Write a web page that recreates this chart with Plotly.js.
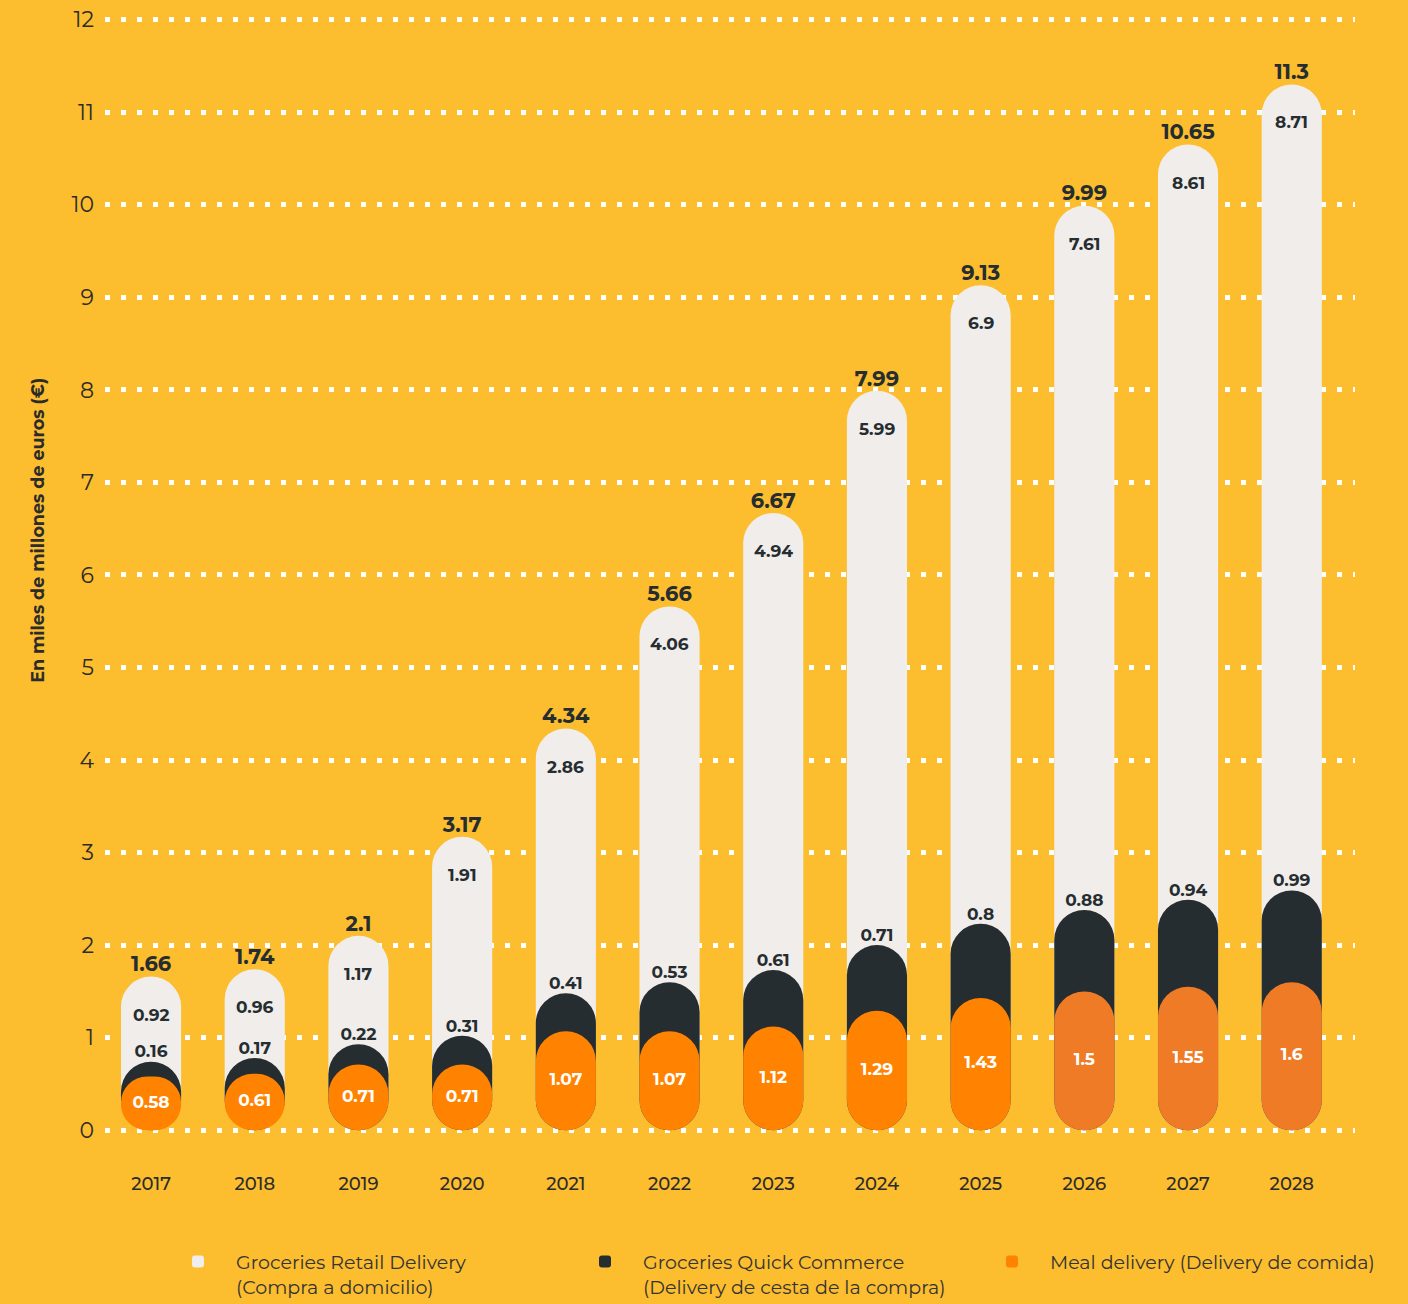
<!DOCTYPE html>
<html>
<head>
<meta charset="utf-8">
<script src="https://cdn.plot.ly/plotly-3.0.1.min.js"></script>
<style>
  html, body { margin: 0; padding: 0; background: #FCBD2E; }
  #chart { width: 1408px; height: 1304px; }
</style>
</head>
<body>
<div id="chart"></div>
<script>
// ---- data ----
const years  = ['2017','2018','2019','2020','2021','2022','2023','2024','2025','2026','2027','2028'];
const retail = [0.92, 0.96, 1.17, 1.91, 2.86, 4.06, 4.94, 5.99, 6.9, 7.61, 8.61, 8.71];
const quick  = [0.16, 0.17, 0.22, 0.31, 0.41, 0.53, 0.61, 0.71, 0.8, 0.88, 0.94, 0.99];
const meal   = [0.58, 0.61, 0.71, 0.71, 1.07, 1.07, 1.12, 1.29, 1.43, 1.5, 1.55, 1.6];
const totals = [1.66, 1.74, 2.1, 3.17, 4.34, 5.66, 6.67, 7.99, 9.13, 9.99, 10.65, 11.3];
const yTickVals = [0,1,2,3,4,5,6,7,8,9,10,11,12];
const forecastFrom = 2026;

// ---- styling ----
const BG = '#FCBD2E';
const WHITE = '#F0EDEA';
const DARK = '#262D31';
const ORANGE = '#FF8200';
const ORANGE_F = '#F07B27';
const TEXT = '#2B2B2B';
const FONT = 'Montserrat, Inter, sans-serif';
const BARW = 0.58;

const mealQuick = meal.map((m, i) => Math.round((m + quick[i]) * 100) / 100);
const mealColors = years.map(y => (+y >= forecastFrom ? ORANGE_F : ORANGE));
const zeros = years.map(() => 0);

// bars with an explicit base are drawn as full pills (both ends rounded)
function pill(values, color, name, label) {
  return {
    type: 'bar', x: years, y: values, base: zeros, width: BARW,
    name: name, showlegend: true,
    marker: { color: color, cornerradius: '50%', line: { width: 0 } },
    customdata: label,
    hovertemplate: '%{x}: %{customdata}<extra></extra>'
  };
}

const traces = [
  pill(totals, WHITE, 'Groceries Retail Delivery<br>(Compra a domicilio)', retail),
  pill(mealQuick, DARK, 'Groceries Quick Commerce<br>(Delivery de cesta de la compra)', quick),
  pill(meal, mealColors, 'Meal delivery (Delivery de comida)', meal),
  {
    type: 'scatter', mode: 'text', x: years, y: totals, text: totals.map(String),
    textposition: 'top center', cliponaxis: false, showlegend: false, hoverinfo: 'skip',
    textfont: { family: FONT, size: 21, color: DARK, weight: 700 }
  },
  {
    type: 'scatter', mode: 'text', x: years, y: mealQuick, text: quick.map(String),
    textposition: 'top center', cliponaxis: false, showlegend: false, hoverinfo: 'skip',
    textfont: { family: FONT, size: 17, color: DARK, weight: 700 }
  },
  {
    type: 'scatter', mode: 'text', x: years, y: meal.map(v => v / 2), text: meal.map(String),
    textposition: 'middle center', cliponaxis: false, showlegend: false, hoverinfo: 'skip',
    textfont: { family: FONT, size: 17, color: '#FFFFFF', weight: 700 }
  }
];

// retail labels sit inside the top of the white pill (x = category index)
const retailLabels = retail.map((v, i) => ({
  x: i, y: totals[i], xref: 'x', yref: 'y', text: String(v),
  yshift: -38, showarrow: false, xanchor: 'center', yanchor: 'middle',
  font: { family: FONT, size: 17, color: DARK, weight: 700 }
}));

const layout = {
  width: 1408, height: 1304,
  paper_bgcolor: BG, plot_bgcolor: BG,
  margin: { l: 105, r: 53, t: 15.4, b: 171.2, pad: 0, autoexpand: false },
  barmode: 'overlay',
  font: { family: FONT, color: TEXT },
  showlegend: true,
  xaxis: {
    type: 'category', range: [-0.444, 11.61],
    showgrid: false, zeroline: false, showline: false, ticks: '',
    ticklabelstandoff: 38,
    tickfont: { family: FONT, size: 18, color: TEXT, weight: 500 }
  },
  yaxis: {
    range: [-0.03, 12.05], tickvals: yTickVals, ticktext: yTickVals.map(String),
    showgrid: true, gridcolor: '#FFFFFF', gridwidth: 5, griddash: '5px,11px',
    zeroline: false, showline: false, ticks: '',
    ticklabelstandoff: 10,
    tickfont: { family: FONT, size: 22, color: TEXT }
  },
  annotations: [{
    text: 'En miles de millones de euros (€)', textangle: -90,
    xref: 'paper', yref: 'paper', x: -0.0536, y: 0.5386,
    xanchor: 'center', yanchor: 'middle', showarrow: false,
    font: { family: FONT, size: 17.5, color: TEXT, weight: 700 }
  }].concat(retailLabels),
  legend: {
    orientation: 'h', x: 0.044, xanchor: 'left', y: -0.098, yanchor: 'top',
    valign: 'top', bgcolor: 'rgba(0,0,0,0)',
    itemwidth: 66, entrywidth: 326, entrywidthmode: 'pixels',
    font: { family: FONT, size: 19, color: '#333333' }
  }
};

Plotly.newPlot('chart', traces, layout, { displayModeBar: false, responsive: false });
</script>
</body>
</html>
